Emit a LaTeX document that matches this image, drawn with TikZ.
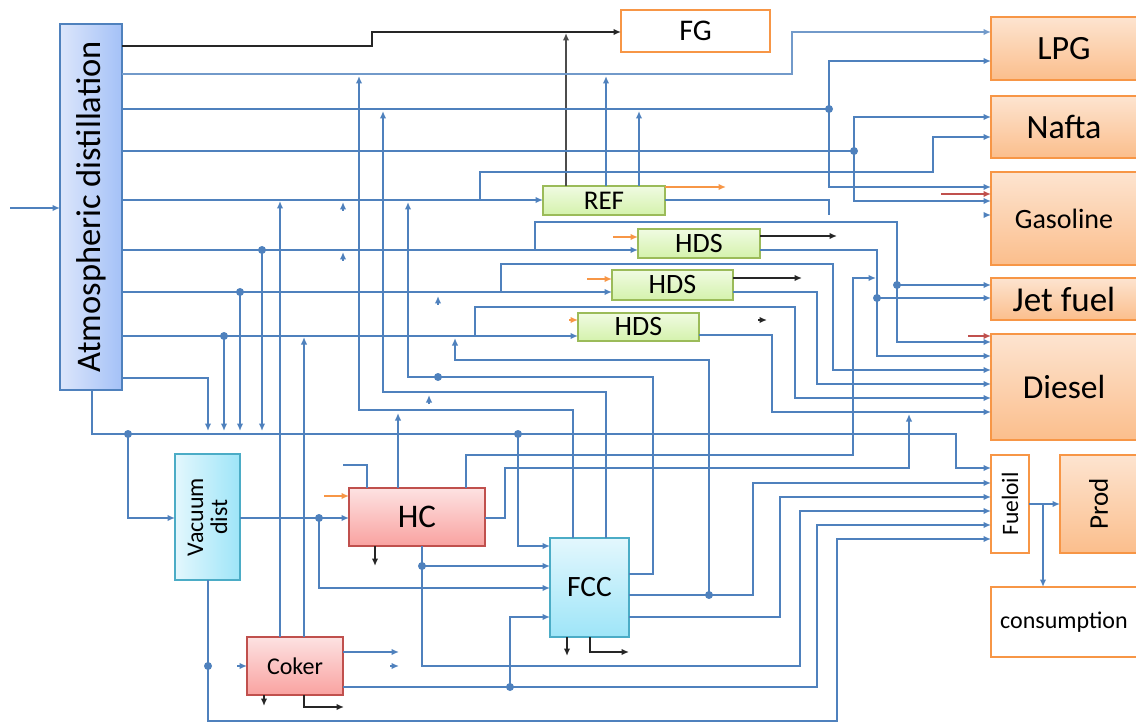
\documentclass[tikz,border=0pt]{standalone}
\usepackage{fontspec}
\setmainfont{Carlito}
\usetikzlibrary{arrows.meta,shadings}
\definecolor{lnblue}{HTML}{4F81BD}
\definecolor{orb}{HTML}{F79646}
\definecolor{or1}{HTML}{FDE4D0}
\definecolor{or2}{HTML}{FBBE8C}
\definecolor{grb}{HTML}{9BBB59}
\definecolor{gr1}{HTML}{F0FBE2}
\definecolor{gr2}{HTML}{D4F2AC}
\definecolor{rdb}{HTML}{C0504D}
\definecolor{rd1}{HTML}{FDE2E2}
\definecolor{rd2}{HTML}{F9A2A0}
\definecolor{cyb}{HTML}{4BACC6}
\definecolor{cy1}{HTML}{E3F7FD}
\definecolor{cy2}{HTML}{9EE5F8}
\definecolor{blb}{HTML}{4F81BD}
\definecolor{bl1}{HTML}{DCE6FB}
\definecolor{bl2}{HTML}{A4C1F7}
\begin{document}
\begin{tikzpicture}[x=1pt,y=-1pt,
  fs/.style={font=\fontsize{#1}{#1}\selectfont},
  box/.style={inner sep=0pt,outer sep=0pt,line width=1.6pt},
  obox/.style={box,draw=orb,top color=or1,bottom color=or2},
  wbox/.style={box,draw=orb,fill=white,line width=2.2pt},
  gbox/.style={box,draw=grb,top color=gr1,bottom color=gr2},
  rbox/.style={box,draw=rdb,top color=rd1,bottom color=rd2},
  cbox/.style={box,draw=cyb},
  conn/.style={draw=lnblue,line width=2pt},
  arr/.style={-{Latex[length=7.5pt,width=6.5pt]}},
  blk/.style={draw=black!85,line width=2pt,-{Latex[length=7.5pt,width=6.5pt]}},
  oarr/.style={draw=orb,line width=2pt,-{Latex[length=7.5pt,width=6.5pt]}},
  rarr/.style={draw=rdb,line width=2.2pt,-{Latex[length=7.5pt,width=6.5pt]}},
  dot/.style={circle,fill=lnblue,inner sep=0pt,minimum size=8pt}]
\useasboundingbox (0,0) rectangle (1136,722);

% ---------- boxes ----------
\node[box,draw=blb,left color=bl1,right color=bl2,minimum width=62,minimum height=366] (atm) at (91,207) {};
\node[rotate=90,fs=34.5] (atmt) at (atm.center) {Atmospheric distillation};
\node[wbox,fs=30,minimum width=149,minimum height=42] (fg) at (695.5,31) {FG};
\node[obox,fs=34,minimum width=146,minimum height=63] (lpg) at (1064,48.5) {LPG};
\node[obox,fs=34,minimum width=146,minimum height=62] (nafta) at (1064,127) {Nafta};
\node[obox,fs=28,minimum width=146,minimum height=93] (gas) at (1064,218.5) {Gasoline};
\node[obox,fs=35,minimum width=146,minimum height=42] (jet) at (1064,299) {Jet fuel};
\node[obox,fs=33.5,minimum width=146,minimum height=106] (diesel) at (1064,387) {Diesel};
\node[wbox,minimum width=38,minimum height=98] (fuel) at (1010,504) {};
\node[rotate=90,fs=23.5] (fuelt) at (fuel.center) {Fueloil};
\node[obox,minimum width=77,minimum height=98] (prod) at (1098.5,504) {};
\node[rotate=90,fs=27] (prodt) at (prod.center) {Prod};
\node[wbox,fs=24,minimum width=146,minimum height=70] (cons) at (1064,622) {consumption};
\node[gbox,fs=27,minimum width=122,minimum height=29] (ref) at (604,200.5) {REF};
\node[gbox,fs=28,minimum width=122,minimum height=29] (hds1) at (699,243.5) {HDS};
\node[gbox,fs=28,minimum width=121,minimum height=30] (hds2) at (672.5,285) {HDS};
\node[gbox,fs=28,minimum width=121,minimum height=28] (hds3) at (638.5,327) {HDS};
\node[cbox,left color=cy1,right color=cy2,minimum width=65,minimum height=126] (vac) at (207.5,517) {};
\node[rotate=90,fs=24,align=center] (vact) at (vac.center) {Vacuum\\dist};
\node[rbox,fs=33,minimum width=136,minimum height=58] (hc) at (417,517) {HC};
\node[cbox,top color=cy1,bottom color=cy2,fs=29.5,minimum width=79,minimum height=99] (fcc) at (589.5,587.5) {FCC};
\node[rbox,fs=24,minimum width=96,minimum height=58] (coker) at (295,666) {Coker};

% ---------- black connectors ----------
\draw[blk] (atm.east |- 0,46) -- (372,46) -- (372,32) -- (fg.west |- 0,32);
\draw[blk,draw=black!70,line width=2.4pt] (566,0 |- ref.north) -- (566,33);
\draw[blk] (hds1.east |- 0,236) -- (837,236);
\draw[blk] (hds2.east |- 0,278) -- (802,278);
\draw[blk] (758,320) -- (767,320);
\draw[blk] (375,0 |- hc.south) -- (375,566);
\draw[blk] (567,0 |- fcc.south) -- (567,656);
\draw[blk] (590,0 |- fcc.south) |- (629,652);
\draw[blk] (264,0 |- coker.south) -- (264,706);
\draw[blk] (304,0 |- coker.south) |- (344,707);

% ---------- orange / red ----------
\draw[oarr] (ref.east |- 0,187) -- (726,187);
\draw[oarr] (613,237) -- (hds1.west |- 0,237);
\draw[oarr] (587,279) -- (hds2.west |- 0,279);
\draw[oarr] (569,320) -- (hds3.west |- 0,320);
\draw[oarr] (324,496) -- (hc.west |- 0,496);
\draw[rarr] (941,194) -- (gas.west |- 0,194);
\draw[rarr] (968,336) -- (diesel.west |- 0,336);

% ---------- blue connectors ----------
\draw[conn,arr] (10,208) -- (atm.west |- 0,208);
% y=74
\draw[conn,arr,draw=lnblue!80] (atm.east |- 0,74) -- (792,74) |- (lpg.west |- 0,32);
% y=109
\draw[conn] (atm.east |- 0,109) -- (829,109);
\draw[conn,arr] (829,109) |- (lpg.west |- 0,61);
\draw[conn,arr] (829,109) |- (gas.west |- 0,187);
\node[dot] (d1) at (829,109) {};
% y=151
\draw[conn,line width=2.4pt] (atm.east |- 0,151) -- (854,151);
\draw[conn,arr] (854,151) |- (nafta.west |- 0,117);
\draw[conn,arr] (854,151) |- (gas.west |- 0,201);
\node[dot] (d2) at (854,151) {};
% y=200
\draw[conn,arr] (atm.east |- 0,200) -- (ref.west |- 0,200);
\draw[conn,arr] (480,200) |- (933,172) |- (nafta.west |- 0,137);
\draw[conn] (ref.east |- 0,200) -| (829,215);
\draw[conn,arr] (984,215) -- (gas.west |- 0,215);
% y=250
\draw[conn,arr] (atm.east |- 0,250) -- (hds1.west |- 0,250);
\draw[conn,arr] (535,250) |- (897,222) |- (diesel.west |- 0,342);
\draw[conn,arr] (897,285) -- (jet.west |- 0,285);
\node[dot] (d3) at (897,285) {};
\draw[conn,arr] (262,250) -- (262,431);
\node[dot] (d4) at (262,250) {};
\draw[conn,arr] (hds1.east |- 0,250) -| (877,356) -- (diesel.west |- 0,356);
\draw[conn,arr] (877,298) -- (jet.west |- 0,298);
\node[dot] (d5) at (877,298) {};
% y=292
\draw[conn,arr] (atm.east |- 0,292) -- (hds2.west |- 0,292);
\draw[conn,arr] (240,292) -- (240,431);
\node[dot] (d6) at (240,292) {};
\draw[conn,arr] (501,292) |- (833,264) |- (diesel.west |- 0,370);
\draw[conn,arr] (hds2.east |- 0,292) -| (817,384) -- (diesel.west |- 0,384);
% y=336
\draw[conn,arr] (atm.east |- 0,336) -- (hds3.west |- 0,336);
\draw[conn,arr] (224,336) -- (224,431);
\node[dot] (d7) at (224,336) {};
\draw[conn,arr] (475,336) |- (795,307) |- (diesel.west |- 0,398);
\draw[conn,arr] (hds3.east |- 0,335) -| (772,412) -- (diesel.west |- 0,412);
% y=378
\draw[conn,arr] (atm.east |- 0,378) -| (208,431);
% bottom of atmospheric distillation
\draw[conn,arr] (92,0 |- atm.south) |- (956,434) |- (fuel.west |- 0,468);
\draw[conn,arr] (128,434) |- (vac.west |- 0,518);
\node[dot] (d8) at (128,434) {};
\draw[conn,arr] (518,434) |- (fcc.west |- 0,546);
\node[dot] (d9) at (518,434) {};
% vacuum
\draw[conn,arr] (vac.east |- 0,518) -- (hc.west |- 0,518);
\draw[conn,arr] (319,518) |- (fcc.west |- 0,588);
\node[dot] (d10) at (319,518) {};
\draw[conn,arr] (208,0 |- vac.south) |- (837,721) |- (fuel.west |- 0,539);
\node[dot] (d11) at (208,666) {};
\draw[conn,arr] (237,666) -- (coker.west |- 0,666);
% coker
\draw[conn,arr] (280,0 |- coker.north) -- (280,201);
\draw[conn,arr] (304,0 |- coker.north) -- (304,337);
\draw[conn,arr] (coker.east |- 0,652) -- (399,652);
\draw[conn,arr] (390,666) -- (399,666);
\draw[conn,arr] (coker.east |- 0,687) -| (817,525) -- (fuel.west |- 0,525);
\draw[conn,arr] (510,687) |- (fcc.west |- 0,617);
\node[dot] (d12) at (510,687) {};
% HC
\draw[conn] (367,0 |- hc.north) |- (343,465);
\draw[conn,arr] (343,211) -- (343,202);
\draw[conn,arr] (343,261) -- (343,252);
\draw[conn,arr] (398,0 |- hc.north) -- (398,413);
\draw[conn,arr] (466,0 |- hc.north) |- (853,455) |- (876,278);
\draw[conn,arr] (hc.east |- 0,518) -| (505,468) -| (909,414);
\draw[conn,arr] (422,0 |- hc.south) |- (800,666) |- (fuel.west |- 0,511);
\draw[conn,arr] (422,566) -- (fcc.west |- 0,566);
\node[dot] (d13) at (422,566) {};
% FCC
\draw[conn,arr] (573,0 |- fcc.north) |- (359,410) -- (359,76);
\draw[conn,arr] (606,0 |- fcc.north) |- (383,392) -- (383,111);
\draw[conn,arr] (fcc.east |- 0,574) -| (653,377) -| (408,202);
\node[dot] (d14) at (438,377) {};
\draw[conn,arr] (fcc.east |- 0,595) -| (753,483) -- (fuel.west |- 0,483);
\draw[conn,arr] (709,595) |- (455,360) -- (455,338);
\node[dot] (d15) at (709,595) {};
\draw[conn,arr] (fcc.east |- 0,617) -| (780,497) -- (fuel.west |- 0,497);
\draw[conn,arr] (429,404) -- (429,395);
\draw[conn,arr] (438,305) -- (438,296);
% REF
\draw[conn,arr] (606,0 |- ref.north) -- (606,76);
\draw[conn,arr] (639,0 |- ref.north) -- (639,111);
% Fueloil
\draw[conn,arr] (fuel.east |- 0,504) -- (prod.west |- 0,504);
\draw[conn,arr] (1043,504) -- (1043,0 |- cons.north);
\end{tikzpicture}
\end{document}
